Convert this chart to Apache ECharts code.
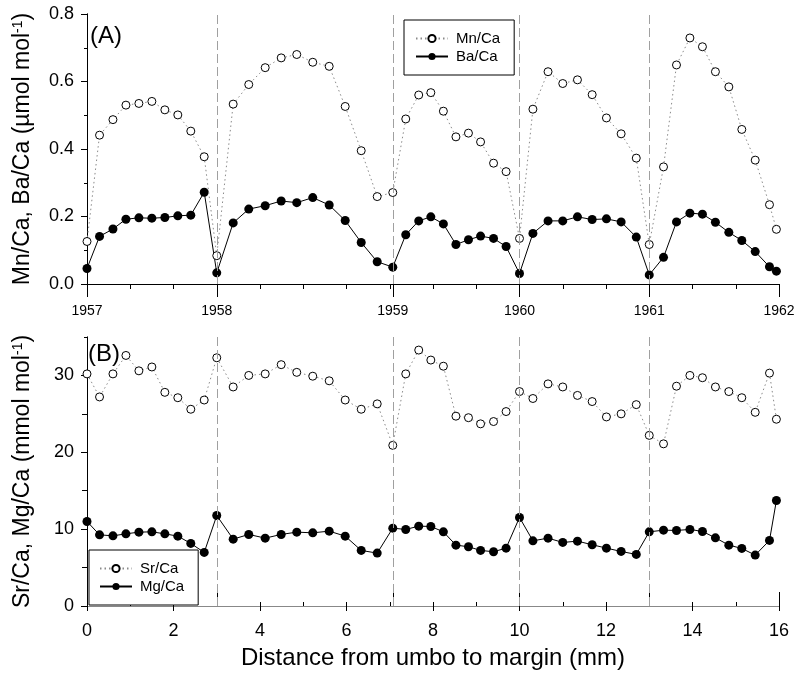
<!DOCTYPE html>
<html>
<head>
<meta charset="utf-8">
<script src="https://cdn.jsdelivr.net/npm/echarts@6/dist/echarts.min.js"></script>
<style>
  html, body { margin: 0; padding: 0; background: #fff; }
  #chart { width: 800px; height: 676px; }
</style>
</head>
<body>
<div id="chart"></div>
<script>
// ---- data ----
const distance = [0, 0.29, 0.60, 0.90, 1.20, 1.50, 1.80, 2.10, 2.40, 2.71, 3.00, 3.38, 3.74, 4.12, 4.49, 4.85, 5.22, 5.60, 5.97, 6.34, 6.71, 7.07, 7.37, 7.67, 7.95, 8.24, 8.53, 8.82, 9.10, 9.40, 9.69, 10.00, 10.31, 10.66, 11.00, 11.34, 11.68, 12.01, 12.35, 12.70, 13.00, 13.33, 13.63, 13.94, 14.23, 14.53, 14.84, 15.14, 15.45, 15.78, 15.94];
const mnCa = [0.126, 0.441, 0.487, 0.530, 0.535, 0.541, 0.516, 0.501, 0.453, 0.377, 0.084, 0.533, 0.591, 0.641, 0.670, 0.680, 0.657, 0.645, 0.526, 0.395, 0.259, 0.271, 0.489, 0.560, 0.567, 0.512, 0.436, 0.447, 0.421, 0.358, 0.333, 0.135, 0.518, 0.629, 0.594, 0.605, 0.561, 0.492, 0.445, 0.373, 0.117, 0.347, 0.649, 0.729, 0.703, 0.629, 0.584, 0.458, 0.367, 0.235, 0.162];
const baCa = [0.046, 0.141, 0.163, 0.192, 0.196, 0.195, 0.197, 0.202, 0.204, 0.272, 0.033, 0.181, 0.222, 0.232, 0.246, 0.241, 0.256, 0.234, 0.188, 0.123, 0.066, 0.050, 0.146, 0.187, 0.199, 0.178, 0.117, 0.131, 0.142, 0.135, 0.111, 0.031, 0.150, 0.187, 0.187, 0.199, 0.191, 0.193, 0.184, 0.139, 0.027, 0.079, 0.184, 0.210, 0.207, 0.183, 0.153, 0.129, 0.096, 0.051, 0.038];
const srCa = [30.2, 27.2, 30.2, 32.6, 30.6, 31.1, 27.8, 27.1, 25.6, 26.8, 32.3, 28.5, 30.0, 30.2, 31.4, 30.4, 29.9, 29.3, 26.8, 25.6, 26.3, 20.9, 30.2, 33.3, 32.0, 31.2, 24.7, 24.5, 23.7, 24.0, 25.3, 27.9, 27.0, 28.9, 28.5, 27.4, 26.6, 24.6, 25.0, 26.2, 22.2, 21.1, 28.6, 30.0, 29.7, 28.5, 27.9, 27.1, 25.2, 30.3, 24.3];
const mgCa = [11.0, 9.26, 9.13, 9.39, 9.61, 9.65, 9.39, 9.09, 8.14, 6.97, 11.77, 8.70, 9.31, 8.83, 9.31, 9.61, 9.52, 9.74, 9.09, 7.23, 6.88, 10.13, 9.96, 10.39, 10.35, 9.65, 7.92, 7.71, 7.23, 7.06, 7.53, 11.52, 8.48, 8.83, 8.27, 8.44, 7.97, 7.53, 7.10, 6.71, 9.65, 9.87, 9.83, 9.96, 9.70, 8.87, 7.92, 7.49, 6.62, 8.53, 13.72];
const yearPositions = [0, 3, 7.07, 10, 13, 16];
const yearLabels = ['1957', '1958', '1959', '1960', '1961', '1962'];
const yearBoundaries = [3, 7.07, 10, 13];
const topYTicks = [0, 0.2, 0.4, 0.6, 0.8];
const bottomYTicks = [0, 10, 20, 30];
const bottomXTicks = [0, 2, 4, 6, 8, 10, 12, 14, 16];

const FONT = 'Liberation Sans, Arial, Helvetica, sans-serif';
const pairs = (ys) => distance.map((d, i) => [d, ys[i]]);

const chart = echarts.init(document.getElementById('chart'), null, { renderer: 'canvas' });

const G0 = { left: 87, top: 14, width: 692, height: 270 };
const G1 = { left: 87, top: 337, width: 692, height: 269 };

const boundaryLine = {
  silent: true,
  symbol: ['none', 'none'],
  label: { show: false },
  lineStyle: { color: '#a0a0a0', type: [9, 4], width: 1 },
  emphasis: { disabled: true },
  data: yearBoundaries.map(v => ({ xAxis: v }))
};

const openCircleStyle = { color: '#fff', borderColor: '#000', borderWidth: 1 };
const dottedLine = { color: '#8a8a8a', width: 1, type: [1.5, 3] };

const option = {
  animation: false,
  backgroundColor: '#fff',
  textStyle: { fontFamily: FONT },
  grid: [
    Object.assign({ containLabel: false }, G0),
    Object.assign({ containLabel: false }, G1)
  ],
  xAxis: [
    // 0: top panel bottom axis with year labels
    {
      gridIndex: 0, type: 'value', position: 'bottom', min: 0, max: 16,
      axisLine: { show: true, lineStyle: { color: '#000', width: 1 } },
      axisTick: { show: true, inside: false, length: 13, lineStyle: { color: '#000' }, customValues: yearPositions },
      axisLabel: {
        show: true, customValues: yearPositions, margin: 20, fontSize: 14, color: '#000', fontFamily: FONT,
        formatter: (v) => { const i = yearPositions.findIndex(p => Math.abs(p - v) < 1e-6); return i >= 0 ? yearLabels[i] : ''; }
      },
      splitLine: { show: false }
    },
    // 1: top panel top border with inside ticks every mm
    {
      gridIndex: 0, type: 'value', position: 'top', min: 0, max: 16, interval: 1,
      axisLine: { show: true, lineStyle: { color: '#000', width: 1 } },
      axisTick: { show: true, inside: true, length: 5, lineStyle: { color: '#000' } },
      axisLabel: { show: false },
      splitLine: { show: false }
    },
    // 2: bottom panel bottom axis with distance labels
    {
      gridIndex: 1, type: 'value', position: 'bottom', min: 0, max: 16, interval: 2,
      axisLine: { show: true, lineStyle: { color: '#333', width: 1 } },
      axisTick: { show: true, inside: false, length: 5, lineStyle: { color: '#000' } },
      axisLabel: { show: true, margin: 16, fontSize: 18, color: '#000', fontFamily: FONT,
        customValues: bottomXTicks },
      splitLine: { show: false },
      name: 'Distance from umbo to margin (mm)',
      nameLocation: 'middle', nameGap: 40,
      nameTextStyle: { fontSize: 24, color: '#000', fontFamily: FONT }
    },
    // 3: bottom panel minor inside ticks
    {
      gridIndex: 1, type: 'value', position: 'bottom', min: 0, max: 16, interval: 1,
      axisLine: { show: false },
      axisTick: { show: true, inside: true, length: 4, lineStyle: { color: '#000' } },
      axisLabel: { show: false },
      splitLine: { show: false }
    },
    // 4: bottom panel top border with year ticks outward
    {
      gridIndex: 1, type: 'value', position: 'top', min: 0, max: 16,
      axisLine: { show: true, lineStyle: { color: '#888', width: 1 } },
      axisTick: { show: true, inside: false, length: 14, lineStyle: { color: '#000' }, customValues: yearPositions },
      axisLabel: { show: false },
      splitLine: { show: false }
    }
  ],
  yAxis: [
    // 0: top panel left
    {
      gridIndex: 0, type: 'value', position: 'left', min: 0, max: 0.8, interval: 0.2,
      axisLine: { show: true, lineStyle: { color: '#000', width: 1 } },
      axisTick: { show: true, inside: false, length: 6, lineStyle: { color: '#000' } },
      minorTick: { show: true, splitNumber: 2, length: 3, lineStyle: { color: '#000' } },
      axisLabel: { show: true, margin: 13, fontSize: 18, color: '#000', fontFamily: FONT,
        customValues: topYTicks, formatter: (v) => v.toFixed(1) },
      splitLine: { show: false },
      name: '{a|Mn/Ca, Ba/Ca (µmol mol}{s|-1}{a|)}',
      nameLocation: 'middle', nameGap: 53,
      nameTextStyle: {
        color: '#000', fontFamily: FONT,
        rich: {
          a: { fontSize: 23, color: '#000', fontFamily: FONT },
          s: { fontSize: 14, color: '#000', fontFamily: FONT, verticalAlign: 'top' }
        }
      }
    },
    // 1: top panel right border
    {
      gridIndex: 0, type: 'value', position: 'right', min: 0, max: 0.8,
      axisLine: { show: true, lineStyle: { color: '#000', width: 1 } },
      axisTick: { show: false }, axisLabel: { show: false }, splitLine: { show: false }
    },
    // 2: bottom panel left (all ticks every 5, labels every 10)
    {
      gridIndex: 1, type: 'value', position: 'left', min: 0, max: 35, interval: 5,
      axisLine: { show: true, lineStyle: { color: '#555', width: 1 } },
      axisTick: { show: true, inside: false, length: 3, lineStyle: { color: '#000' } },
      axisLabel: { show: true, margin: 13, fontSize: 18, color: '#000', fontFamily: FONT,
        customValues: bottomYTicks },
      splitLine: { show: false },
      name: '{a|Sr/Ca, Mg/Ca (mmol mol}{s|-1}{a|)}',
      nameLocation: 'middle', nameGap: 53,
      nameTextStyle: {
        color: '#000', fontFamily: FONT,
        rich: {
          a: { fontSize: 23, color: '#000', fontFamily: FONT },
          s: { fontSize: 14, color: '#000', fontFamily: FONT, verticalAlign: 'top' }
        }
      }
    },
    // 3: bottom panel left major ticks
    {
      gridIndex: 1, type: 'value', position: 'left', min: 0, max: 35,
      axisLine: { show: false },
      axisTick: { show: true, inside: false, length: 6, lineStyle: { color: '#000' }, customValues: bottomYTicks },
      axisLabel: { show: false }, splitLine: { show: false }
    },
    // 4: bottom panel right border
    {
      gridIndex: 1, type: 'value', position: 'right', min: 0, max: 35,
      axisLine: { show: true, lineStyle: { color: '#000', width: 1 } },
      axisTick: { show: true, inside: true, length: 5, lineStyle: { color: '#000' }, customValues: [5, 15, 25] },
      axisLabel: { show: false }, splitLine: { show: false }
    }
  ],
  legend: [
    {
      data: ['Mn/Ca', 'Ba/Ca'], orient: 'vertical', left: 404, top: 20,
      itemWidth: 32, itemHeight: 9, itemGap: 3,
      padding: [11, 14, 11, 11],
      borderColor: '#000', borderWidth: 1, borderRadius: 0, backgroundColor: '#fff',
      textStyle: { fontSize: 15, color: '#000', fontFamily: FONT, padding: [0, 0, 0, 3] },
      selectedMode: false
    },
    {
      data: ['Sr/Ca', 'Mg/Ca'], orient: 'vertical', left: 89, top: 550,
      itemWidth: 32, itemHeight: 9, itemGap: 3,
      padding: [11, 14, 11, 10],
      borderColor: '#000', borderWidth: 1, borderRadius: 0, backgroundColor: '#fff',
      textStyle: { fontSize: 15, color: '#000', fontFamily: FONT, padding: [0, 0, 0, 3] },
      selectedMode: false
    }
  ],
  graphic: [
    { type: 'text', left: 90, top: 24, z: 100,
      style: { text: '(A)', font: '24px ' + FONT, fill: '#000' } },
    { type: 'text', left: 88, top: 342, z: 100,
      style: { text: '(B)', font: '24px ' + FONT, fill: '#000' } }
  ],
  series: [
    {
      name: 'Mn/Ca', type: 'line', xAxisIndex: 0, yAxisIndex: 0,
      data: pairs(mnCa), symbol: 'circle', symbolSize: 8, showAllSymbol: true, clip: false,
      itemStyle: openCircleStyle,
      lineStyle: dottedLine,
      emphasis: { disabled: true }, z: 4
    },
    {
      name: 'Ba/Ca', type: 'line', xAxisIndex: 0, yAxisIndex: 0,
      data: pairs(baCa), symbol: 'circle', symbolSize: 9, showAllSymbol: true, clip: false,
      itemStyle: { color: '#000' },
      lineStyle: { color: '#000', width: 1 },
      emphasis: { disabled: true }, z: 3,
      markLine: boundaryLine
    },
    {
      name: 'Sr/Ca', type: 'line', xAxisIndex: 2, yAxisIndex: 2,
      data: pairs(srCa), symbol: 'circle', symbolSize: 8, showAllSymbol: true, clip: false,
      itemStyle: openCircleStyle,
      lineStyle: dottedLine,
      emphasis: { disabled: true }, z: 4
    },
    {
      name: 'Mg/Ca', type: 'line', xAxisIndex: 2, yAxisIndex: 2,
      data: pairs(mgCa), symbol: 'circle', symbolSize: 9, showAllSymbol: true, clip: false,
      itemStyle: { color: '#000' },
      lineStyle: { color: '#000', width: 1 },
      emphasis: { disabled: true }, z: 3,
      markLine: boundaryLine
    }
  ]
};

chart.setOption(option);
</script>
</body>
</html>
